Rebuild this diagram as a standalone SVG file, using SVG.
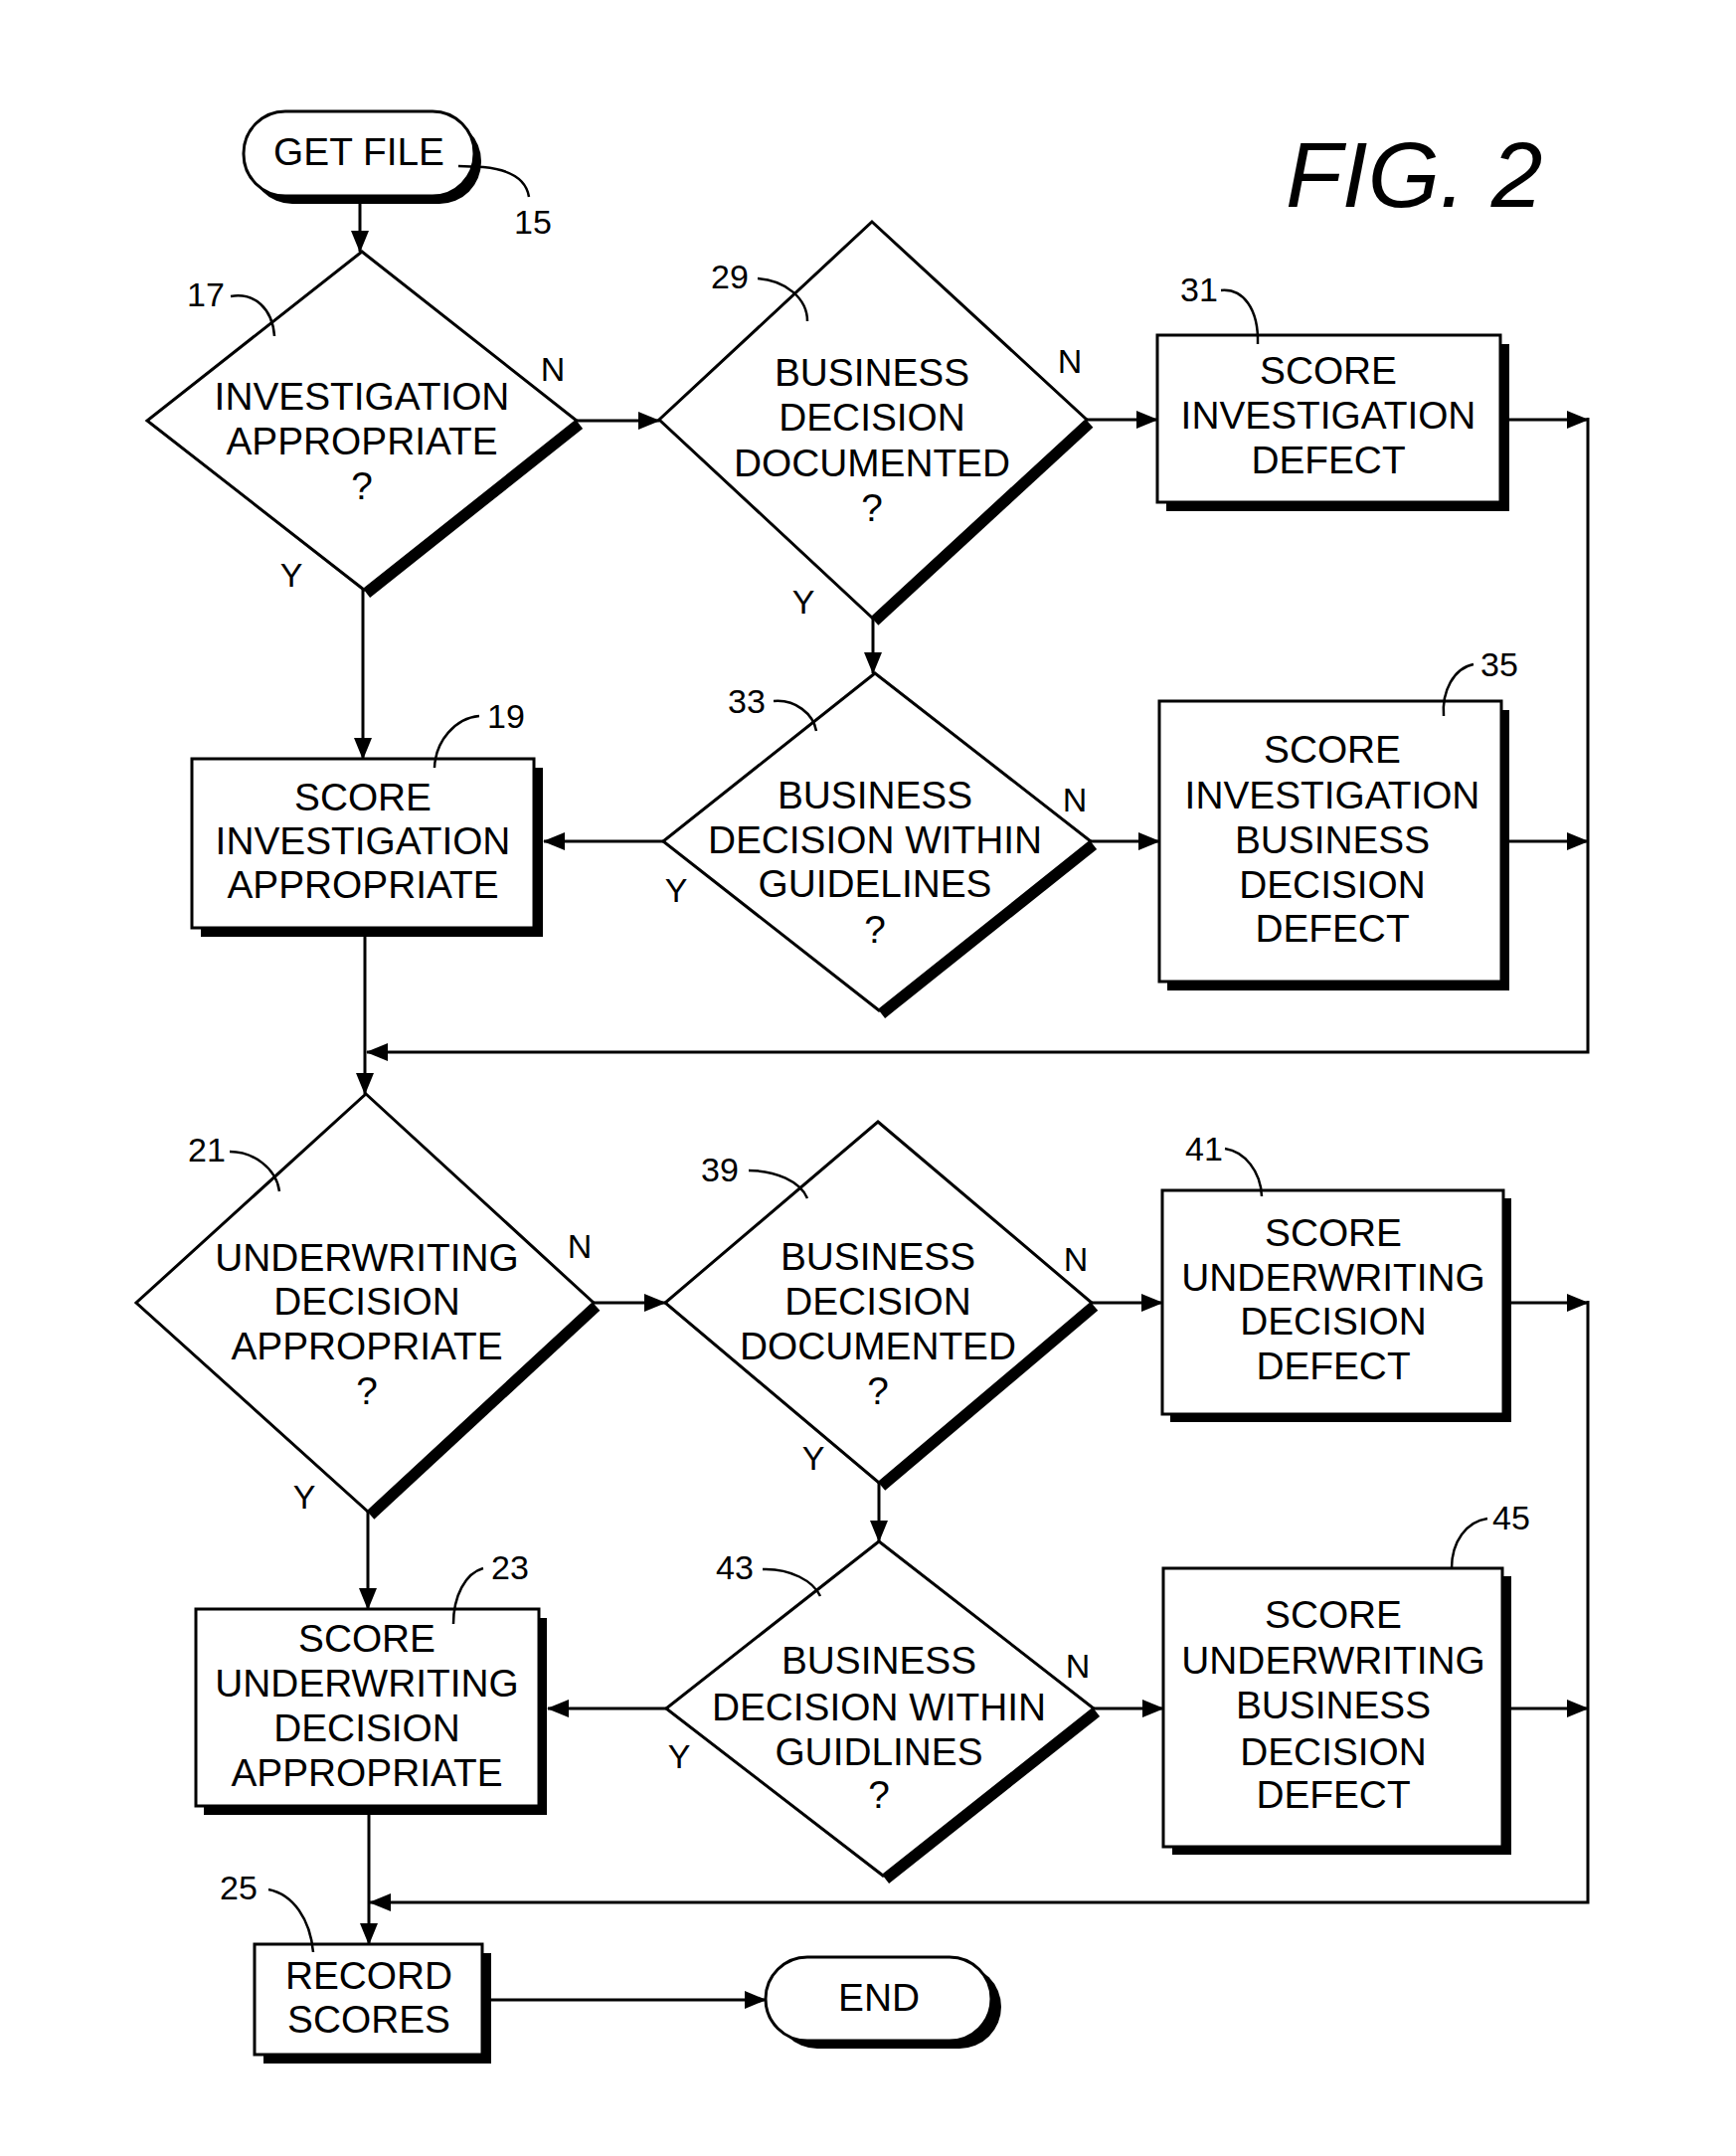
<svg xmlns="http://www.w3.org/2000/svg" width="1746" height="2168" viewBox="0 0 1746 2168">
<defs>
<marker id="ah" markerUnits="userSpaceOnUse" markerWidth="22" markerHeight="18" refX="21" refY="9" orient="auto" viewBox="0 0 22 18"><path d="M0,0 L22,9 L0,18 z" fill="#000"/></marker>
</defs>
<style>
.t{font-family:"Liberation Sans",Arial,sans-serif;font-size:38.8px;text-anchor:middle;fill:#000}
.l{font-family:"Liberation Sans",Arial,sans-serif;font-size:34px;fill:#000}
.yn{font-family:"Liberation Sans",Arial,sans-serif;font-size:34px;text-anchor:middle;fill:#000}
.fig{font-family:"Liberation Sans",Arial,sans-serif;font-size:93px;font-style:italic;fill:#000}
.box{fill:#fff;stroke:#000;stroke-width:3}
.sh{fill:#000}
.dia{fill:#fff;stroke:#000;stroke-width:3;stroke-linejoin:miter}
.dsh{stroke:#000;stroke-width:10;fill:none}
.c{stroke:#000;stroke-width:3;fill:none}
.ca{stroke:#000;stroke-width:3;fill:none;marker-end:url(#ah)}
.ld{stroke:#000;stroke-width:2.5;fill:none}
</style>
<rect width="1746" height="2168" fill="#fff"/>
<text class="fig" x="1293" y="208">FIG. 2</text>

<g id="n15">
<rect class="sh" x="252" y="120" width="232" height="85" rx="42"/>
<rect class="box" x="245" y="112" width="232" height="85" rx="42"/>
<text class="t" x="361" y="166">GET FILE</text>
<path class="ld" d="M461,167 L486,168 Q528,172 532,198"/>
<text class="l" x="517" y="235">15</text>
</g>

<g id="n17">
<line class="dsh" x1="583" y1="427" x2="369" y2="597"/>
<polygon class="dia" points="364,253 580,423 366,593 148,423"/>
<text class="t" x="364" y="412">INVESTIGATION</text>
<text class="t" x="364" y="457">APPROPRIATE</text>
<text class="t" x="364" y="502">?</text>
<path class="ld" d="M232,298 C256,294 274,310 276,338"/>
<text class="l" x="188" y="308">17</text>
<text class="yn" x="556" y="383">N</text>
<text class="yn" x="293" y="590">Y</text>
</g>

<g id="n29">
<line class="dsh" x1="1096" y1="426" x2="880" y2="625"/>
<polygon class="dia" points="877,223 1093,422 877,621 663,422"/>
<text class="t" x="877" y="388">BUSINESS</text>
<text class="t" x="877" y="433">DECISION</text>
<text class="t" x="877" y="479">DOCUMENTED</text>
<text class="t" x="877" y="524">?</text>
<path class="ld" d="M762,280 C790,282 812,300 812,323"/>
<text class="l" x="715" y="290">29</text>
<text class="yn" x="1076" y="375">N</text>
<text class="yn" x="808" y="617">Y</text>
</g>

<g id="n31">
<rect class="sh" x="1173" y="346" width="345" height="168"/>
<rect class="box" x="1164" y="337" width="345" height="168"/>
<text class="t" x="1336" y="386">SCORE</text>
<text class="t" x="1336" y="431">INVESTIGATION</text>
<text class="t" x="1336" y="476">DEFECT</text>
<path class="ld" d="M1228,292 C1250,290 1266,310 1265,346"/>
<text class="l" x="1187" y="303">31</text>
</g>

<g id="n33">
<line class="dsh" x1="1100" y1="850" x2="887" y2="1020"/>
<polygon class="dia" points="880,677 1097,846 884,1016 667,846"/>
<text class="t" x="880" y="813">BUSINESS</text>
<text class="t" x="880" y="858">DECISION WITHIN</text>
<text class="t" x="880" y="902">GUIDELINES</text>
<text class="t" x="880" y="948">?</text>
<path class="ld" d="M778,705 C800,703 818,718 821,735"/>
<text class="l" x="732" y="717">33</text>
<text class="yn" x="1081" y="816">N</text>
<text class="yn" x="680" y="907">Y</text>
</g>

<g id="n35">
<rect class="sh" x="1174" y="714" width="344" height="282"/>
<rect class="box" x="1166" y="705" width="344" height="282"/>
<text class="t" x="1340" y="767">SCORE</text>
<text class="t" x="1340" y="813">INVESTIGATION</text>
<text class="t" x="1340" y="858">BUSINESS</text>
<text class="t" x="1340" y="903">DECISION</text>
<text class="t" x="1340" y="947">DEFECT</text>
<path class="ld" d="M1482,668 C1462,672 1450,695 1452,720"/>
<text class="l" x="1489" y="680">35</text>
</g>

<g id="n19">
<rect class="sh" x="202" y="772" width="344" height="170"/>
<rect class="box" x="193" y="763" width="344" height="170"/>
<text class="t" x="365" y="815">SCORE</text>
<text class="t" x="365" y="859">INVESTIGATION</text>
<text class="t" x="365" y="903">APPROPRIATE</text>
<path class="ld" d="M482,720 C458,722 438,745 437,772"/>
<text class="l" x="490" y="732">19</text>
</g>

<g id="n21">
<line class="dsh" x1="600" y1="1314" x2="373" y2="1524"/>
<polygon class="dia" points="368,1100 597,1310 370,1520 137,1310"/>
<text class="t" x="369" y="1278">UNDERWRITING</text>
<text class="t" x="369" y="1322">DECISION</text>
<text class="t" x="369" y="1367">APPROPRIATE</text>
<text class="t" x="369" y="1412">?</text>
<path class="ld" d="M231,1158 C255,1158 278,1175 281,1198"/>
<text class="l" x="189" y="1168">21</text>
<text class="yn" x="583" y="1265">N</text>
<text class="yn" x="306" y="1517">Y</text>
</g>

<g id="n39">
<line class="dsh" x1="1101" y1="1314" x2="887" y2="1495"/>
<polygon class="dia" points="883,1128 1098,1310 884,1491 669,1310"/>
<text class="t" x="883" y="1277">BUSINESS</text>
<text class="t" x="883" y="1322">DECISION</text>
<text class="t" x="883" y="1367">DOCUMENTED</text>
<text class="t" x="883" y="1412">?</text>
<path class="ld" d="M753,1177 C780,1177 805,1188 812,1205"/>
<text class="l" x="705" y="1188">39</text>
<text class="yn" x="1082" y="1278">N</text>
<text class="yn" x="818" y="1478">Y</text>
</g>

<g id="n41">
<rect class="sh" x="1177" y="1205" width="343" height="225"/>
<rect class="box" x="1169" y="1197" width="343" height="225"/>
<text class="t" x="1341" y="1253">SCORE</text>
<text class="t" x="1341" y="1298">UNDERWRITING</text>
<text class="t" x="1341" y="1342">DECISION</text>
<text class="t" x="1341" y="1387">DEFECT</text>
<path class="ld" d="M1232,1155 C1252,1158 1268,1178 1269,1203"/>
<text class="l" x="1192" y="1167">41</text>
</g>

<g id="n43">
<line class="dsh" x1="1103" y1="1722" x2="891" y2="1890"/>
<polygon class="dia" points="884,1550 1100,1718 888,1886 670,1718"/>
<text class="t" x="884" y="1683">BUSINESS</text>
<text class="t" x="884" y="1730">DECISION WITHIN</text>
<text class="t" x="884" y="1775">GUIDLINES</text>
<text class="t" x="884" y="1818">?</text>
<path class="ld" d="M767,1578 C795,1577 818,1590 825,1605"/>
<text class="l" x="720" y="1588">43</text>
<text class="yn" x="1084" y="1687">N</text>
<text class="yn" x="683" y="1778">Y</text>
</g>

<g id="n45">
<rect class="sh" x="1179" y="1585" width="341" height="280"/>
<rect class="box" x="1170" y="1577" width="341" height="280"/>
<text class="t" x="1341" y="1637">SCORE</text>
<text class="t" x="1341" y="1683">UNDERWRITING</text>
<text class="t" x="1341" y="1728">BUSINESS</text>
<text class="t" x="1341" y="1775">DECISION</text>
<text class="t" x="1341" y="1818">DEFECT</text>
<path class="ld" d="M1496,1527 C1475,1530 1460,1550 1460,1577"/>
<text class="l" x="1501" y="1538">45</text>
</g>

<g id="n23">
<rect class="sh" x="205" y="1627" width="345" height="198"/>
<rect class="box" x="197" y="1618" width="345" height="198"/>
<text class="t" x="369" y="1661">SCORE</text>
<text class="t" x="369" y="1706">UNDERWRITING</text>
<text class="t" x="369" y="1751">DECISION</text>
<text class="t" x="369" y="1796">APPROPRIATE</text>
<path class="ld" d="M486,1577 C468,1582 456,1605 456,1633"/>
<text class="l" x="494" y="1588">23</text>
</g>

<g id="n25">
<rect class="sh" x="265" y="1964" width="229" height="111"/>
<rect class="box" x="256" y="1955" width="229" height="111"/>
<text class="t" x="371" y="2000">RECORD</text>
<text class="t" x="371" y="2044">SCORES</text>
<path class="ld" d="M270,1900 C295,1905 312,1930 315,1963"/>
<text class="l" x="221" y="1910">25</text>
</g>

<g id="end">
<rect class="sh" x="780" y="1976" width="227" height="84" rx="42"/>
<rect class="box" x="770" y="1968" width="227" height="84" rx="42"/>
<text class="t" x="884" y="2022">END</text>
</g>

<g id="connectors">
<path class="ca" d="M362,205 V253"/>
<path class="ca" d="M580,423 H663"/>
<path class="ca" d="M365,593 V763"/>
<path class="ca" d="M1093,422 H1164"/>
<path class="ca" d="M878,621 V677"/>
<path class="ca" d="M667,846 H547"/>
<path class="ca" d="M1097,846 H1166"/>
<path class="ca" d="M1518,422 H1597"/>
<path class="ca" d="M1518,846 H1597"/>
<path class="ca" d="M1597,420 V1058 H369"/>
<path class="ca" d="M367,942 V1100"/>
<path class="ca" d="M597,1310 H669"/>
<path class="ca" d="M370,1520 V1618"/>
<path class="ca" d="M1098,1310 H1169"/>
<path class="ca" d="M884,1491 V1550"/>
<path class="ca" d="M670,1718 H551"/>
<path class="ca" d="M1100,1718 H1170"/>
<path class="ca" d="M1520,1310 H1597"/>
<path class="ca" d="M1520,1718 H1597"/>
<path class="ca" d="M1597,1308 V1913 H372"/>
<path class="ca" d="M371,1825 V1955"/>
<path class="ca" d="M494,2011 H770"/>
</g>
</svg>
